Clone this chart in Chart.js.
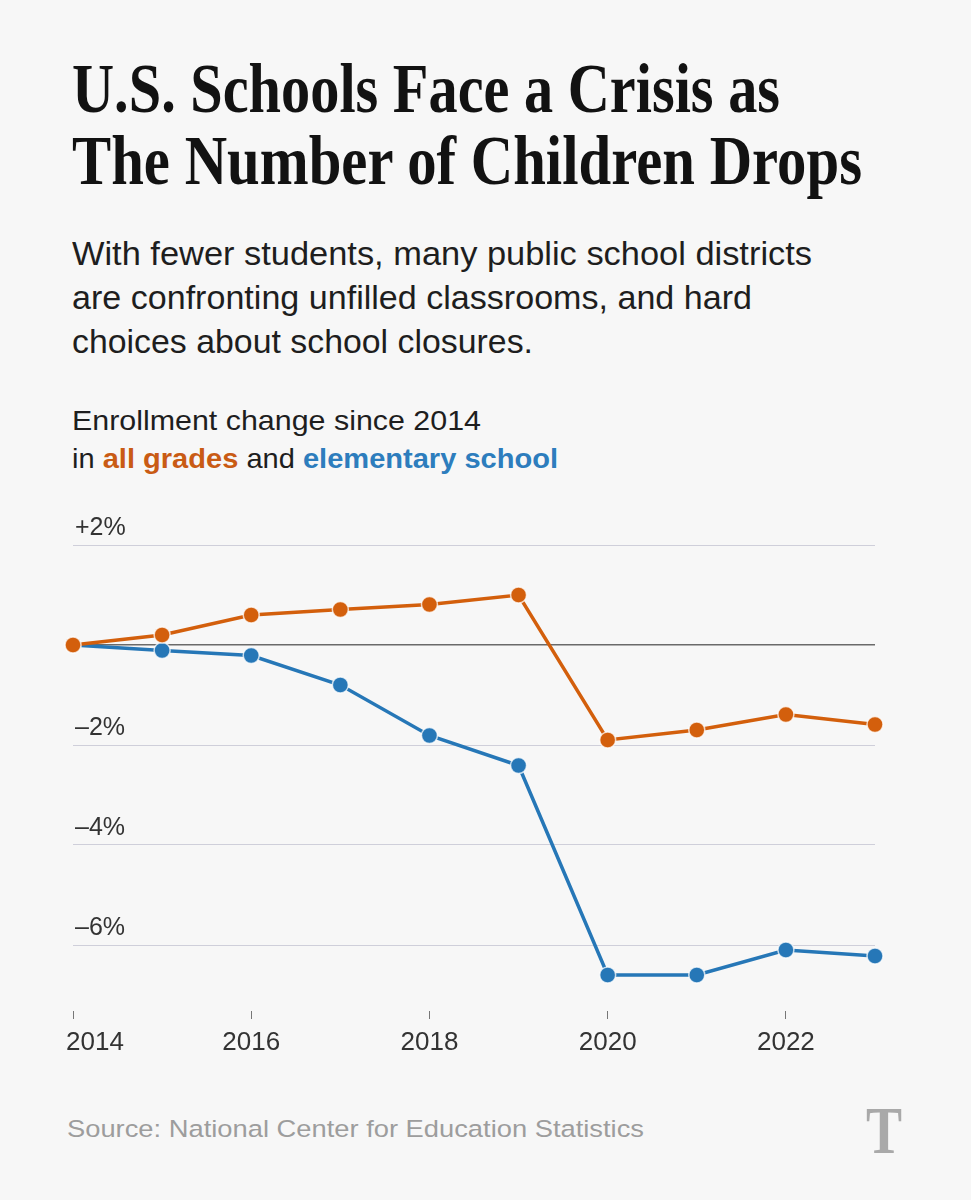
<!DOCTYPE html>
<html>
<head>
<meta charset="utf-8">
<script src="https://cdn.jsdelivr.net/npm/chart.js@4.4.1/dist/chart.umd.min.js"></script>
<style>
  body { margin:0; background:#f7f7f7; width:971px; height:1200px; position:relative; overflow:hidden;
         font-family:"Liberation Sans", Arial, sans-serif; color:#222; }
  .t { position:absolute; left:72px; white-space:nowrap; transform-origin:0 0; }
  .title { font-family:"Liberation Serif", serif; font-weight:bold; font-size:70px; line-height:70px; color:#121212; }
  .dek { font-size:33px; line-height:45px; color:#1e1e1e; }
  .lbl { font-size:28px; line-height:39px; color:#1e1e1e; }
  .src { left:67px; font-size:24.5px; line-height:30px; color:#9d9d9d; }
  .logo { left:866px; top:1096px; font-family:"Liberation Serif", serif; font-weight:bold; font-size:68px; line-height:68px; color:#a9a9a9; }
  #wrap { position:absolute; left:0; top:480px; width:971px; height:600px; }
</style>
</head>
<body>
<div class="t title" id="t1" style="top:54px">U.S. Schools Face a Crisis as</div>
<div class="t title" id="t2" style="top:126px">The Number of Children Drops</div>
<div class="t dek" id="d1" style="top:230.5px">With fewer students, many public school districts</div>
<div class="t dek" id="d2" style="top:274.5px">are confronting unfilled classrooms, and hard</div>
<div class="t dek" id="d3" style="top:319px">choices about school closures.</div>
<div class="t lbl" id="l1" style="top:401px">Enrollment change since 2014</div>
<div class="t lbl" id="l2" style="top:438.5px">in <b style="color:#c95b14">all grades</b> and <b style="color:#2d7dbd">elementary school</b></div>
<div id="wrap"><canvas id="chart" width="971" height="600"></canvas></div>
<div class="t src" id="s1" style="top:1114px">Source: National Center for Education Statistics</div>
<div class="t logo" id="logo">T</div>

<script>
const years = [2014, 2015, 2016, 2017, 2018, 2019, 2020, 2021, 2022, 2023];
const allGrades = [0, 0.2, 0.6, 0.71, 0.81, 1.0, -1.9, -1.7, -1.39, -1.59];
const elementary = [0, -0.11, -0.21, -0.8, -1.81, -2.41, -6.6, -6.6, -6.1, -6.22];
const yTicks = [2, 0, -2, -4, -6];
const yTickLabels = ['+2%', '', '–2%', '–4%', '–6%'];
const xTicks = [2014, 2016, 2018, 2020, 2022];

const ORANGE = '#d35f0c';
const BLUE = '#2677b7';

// squeeze/stretch each text line to the width it has in the original
function fit(id, w) {
    const el = document.getElementById(id);
    const r = el.getBoundingClientRect().width;
    el.style.transform = `scaleX(${w / r})`;
}
fit('t1', 708); fit('t2', 790);
fit('d1', 740); fit('d2', 680); fit('d3', 461);
fit('l1', 409); fit('l2', 486);
fit('s1', 577); fit('logo', 36);

// year labels under the tick marks, first one kept inside the left margin
const xLabels = {
    id: 'xLabels',
    afterDraw(chart) {
        const s = chart.scales.x, c = chart.ctx;
        c.save();
        c.font = '26px "Liberation Sans"';
        c.fillStyle = '#333';
        c.textAlign = 'center';
        c.textBaseline = 'middle';
        xTicks.forEach(v => {
            const txt = String(v);
            const w = c.measureText(txt).width;
            const px = Math.max(s.getPixelForValue(v), 66 + w / 2);
            c.fillText(txt, px, s.top + 32);
        });
        c.restore();
    }
};

const series = (vals, color) => ({
    data: years.map((x, i) => ({ x, y: vals[i] })),
    borderColor: color,
    backgroundColor: color,
    pointBackgroundColor: color,
    pointBorderColor: 'rgba(255,255,255,0.75)',
    pointBorderWidth: 1.5,
    pointRadius: 8,
    borderWidth: 3.5,
    tension: 0,
    clip: false
});

new Chart(document.getElementById('chart'), {
    type: 'line',
    data: {
        datasets: [
            { label: 'all grades', ...series(allGrades, ORANGE) },
            { label: 'elementary school', ...series(elementary, BLUE) }
        ]
    },
    options: {
        responsive: false,
        animation: false,
        events: [],
        layout: { padding: { left: 73, right: 96, top: 65, bottom: 61 } },
        plugins: { legend: { display: false }, tooltip: { enabled: false } },
        scales: {
            x: {
                type: 'linear', min: 2014, max: 2023,
                afterBuildTicks: s => { s.ticks = xTicks.map(v => ({ value: v })); },
                afterFit: s => { s.height = 8; },
                grid: { drawOnChartArea: false, drawTicks: true, tickLength: 8, color: '#777', lineWidth: 1 },
                border: { display: false },
                ticks: { display: false }
            },
            y: {
                min: -7.32, max: 2,
                afterBuildTicks: s => { s.ticks = yTicks.map(v => ({ value: v })); },
                afterFit: s => { s.width = 0; },
                grid: {
                    drawTicks: false,
                    color: c => (c.tick && c.tick.value === 0) ? '#6a6a6a' : '#cfcfda',
                    lineWidth: c => (c.tick && c.tick.value === 0) ? 1.6 : 1
                },
                border: { display: false },
                ticks: {
                    mirror: true, padding: 2, labelOffset: -17,
                    font: { family: 'Liberation Sans', size: 25 },
                    color: '#333',
                    callback: v => yTickLabels[yTicks.indexOf(v)]
                }
            }
        }
    },
    plugins: [xLabels]
});
</script>
</body>
</html>
